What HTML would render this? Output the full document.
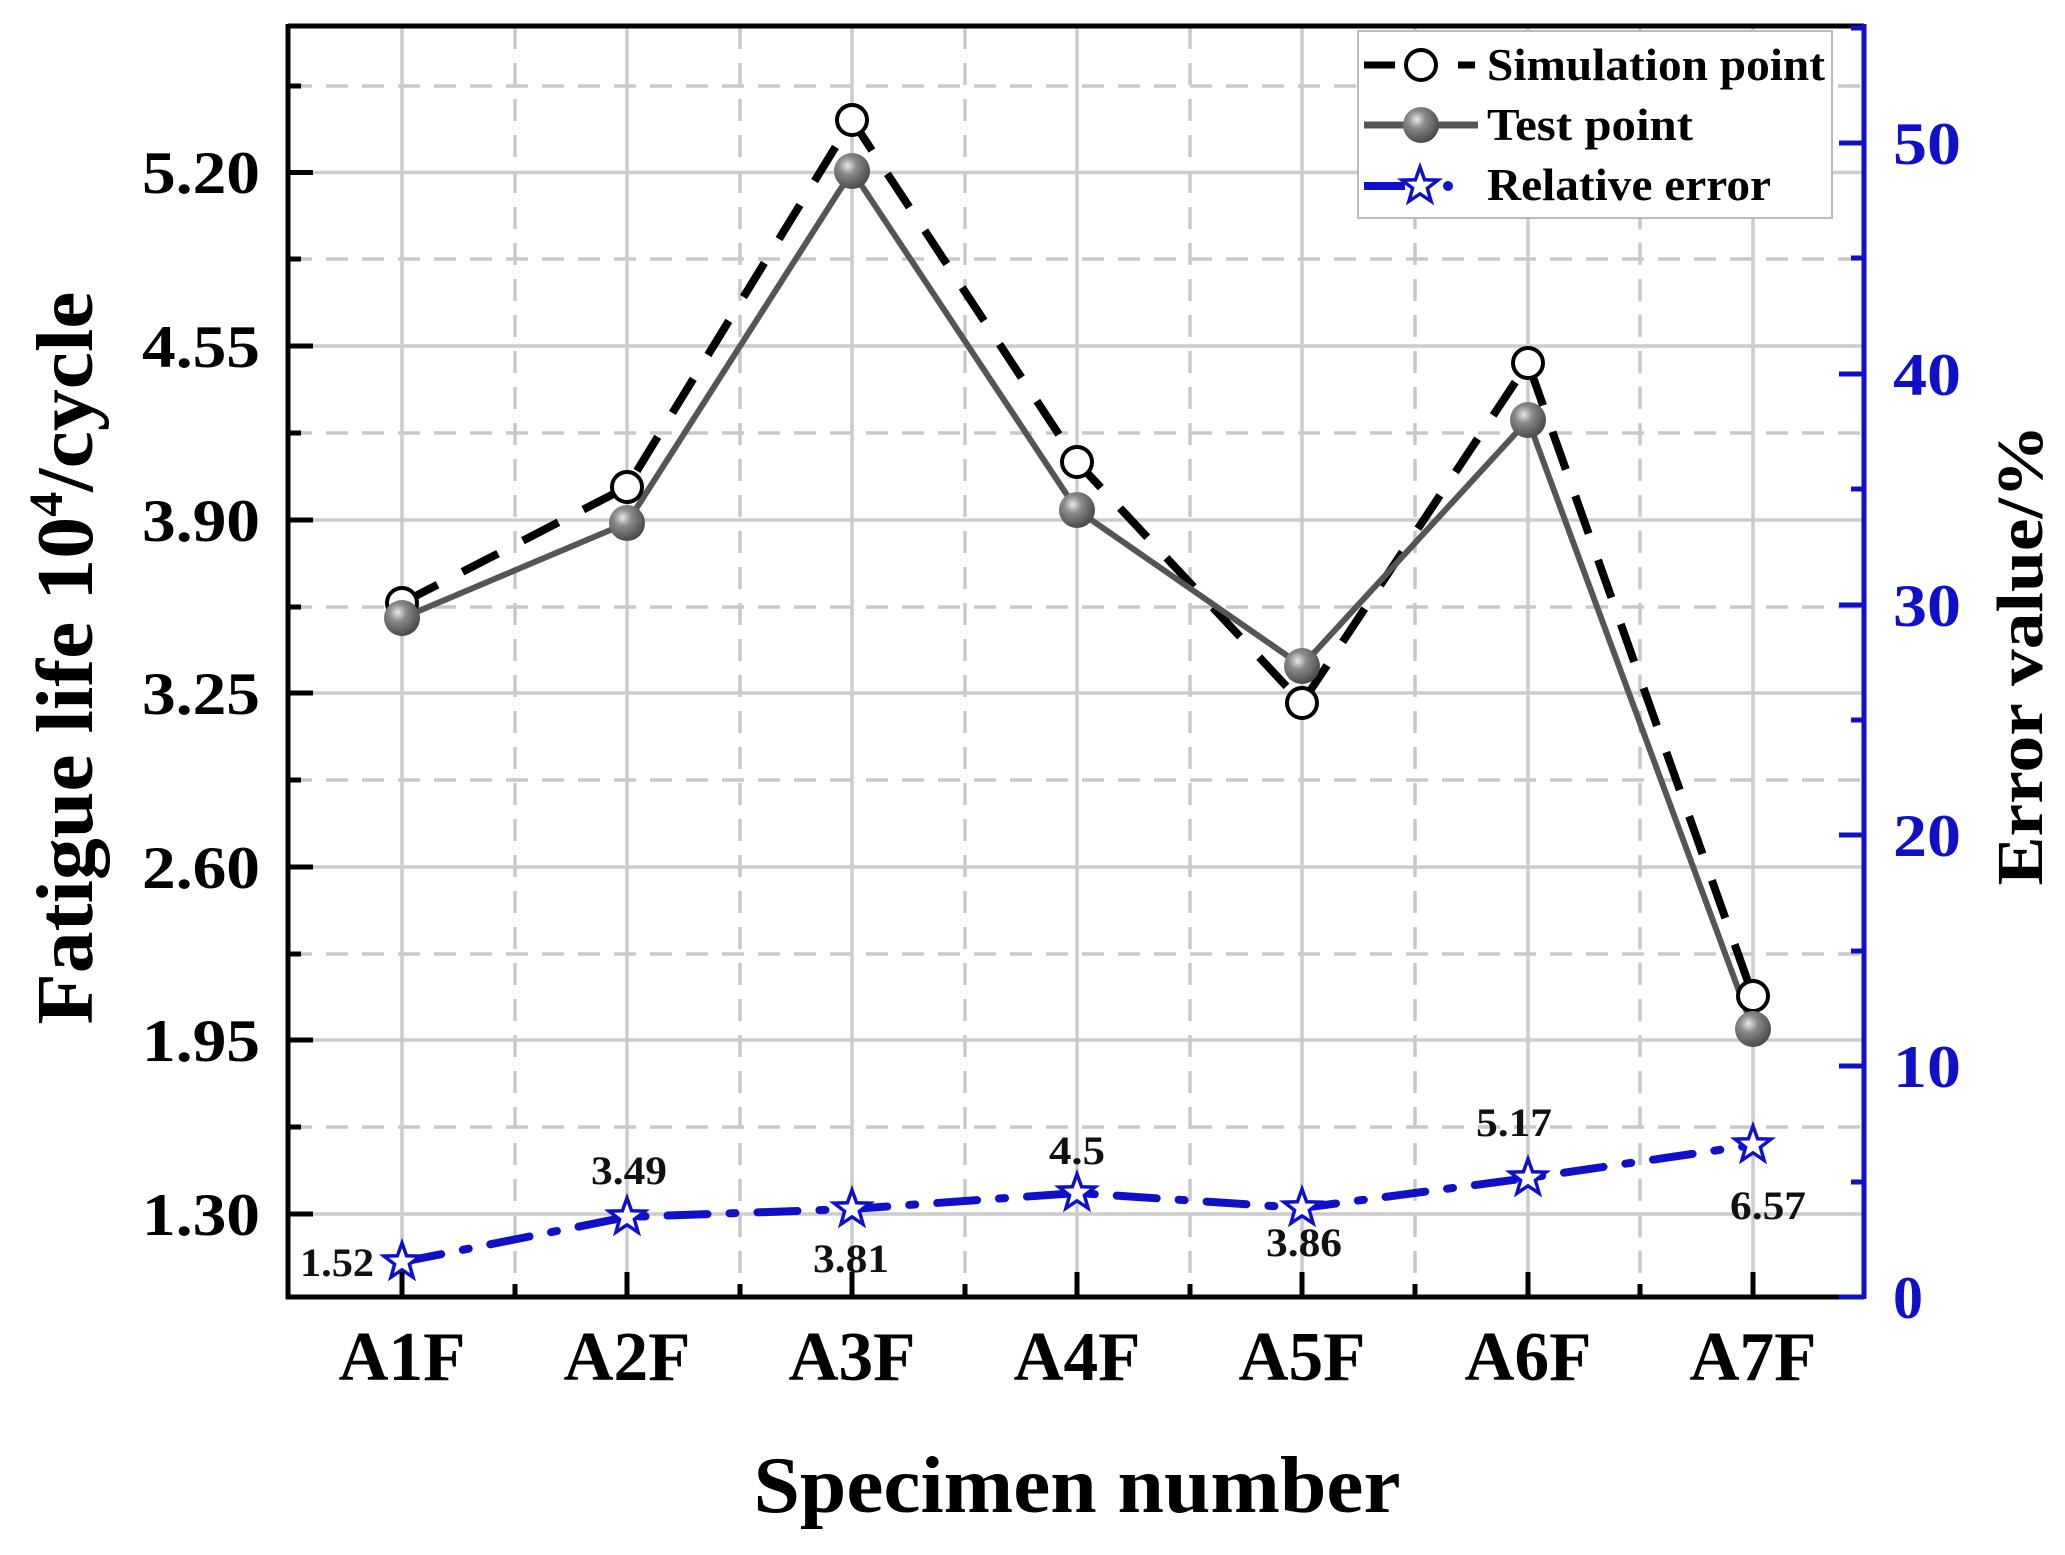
<!DOCTYPE html>
<html><head><meta charset="utf-8"><style>html,body{margin:0;padding:0;background:#fff}svg{display:block}svg text{font-family:"Liberation Serif","Times New Roman",serif;font-weight:bold}</style></head>
<body>
<svg width="2065" height="1555" viewBox="0 0 2065 1555" xmlns="http://www.w3.org/2000/svg">
<defs>
<radialGradient id="g" cx="0.38" cy="0.35" r="0.7">
<stop offset="0" stop-color="#e8e8e8"/><stop offset="0.35" stop-color="#8a8a8a"/><stop offset="1" stop-color="#444"/>
</radialGradient>
<polygon id="star" points="0,-19 4.6,-6.2 18,-5.9 7.4,2.3 11.1,15.3 0,7.8 -11.1,15.3 -7.4,2.3 -18,-5.9 -4.6,-6.2" fill="#fff" stroke="#1010c8" stroke-width="3.5"/>
</defs>
<g stroke="#c8c8c8" stroke-width="3.5" stroke-dasharray="22,14" fill="none">
<line x1="515" y1="27" x2="515" y2="1296"/><line x1="740" y1="27" x2="740" y2="1296"/><line x1="965" y1="27" x2="965" y2="1296"/>
<line x1="1190" y1="27" x2="1190" y2="1296"/><line x1="1415" y1="27" x2="1415" y2="1296"/><line x1="1640" y1="27" x2="1640" y2="1296"/>
<line x1="290" y1="1127" x2="1862" y2="1127"/><line x1="290" y1="954" x2="1862" y2="954"/><line x1="290" y1="780" x2="1862" y2="780"/>
<line x1="290" y1="607" x2="1862" y2="607"/><line x1="290" y1="433" x2="1862" y2="433"/><line x1="290" y1="259" x2="1862" y2="259"/>
<line x1="290" y1="86" x2="1862" y2="86"/>
</g>
<g stroke="#cccccc" stroke-width="3.5" fill="none">
<line x1="402" y1="27" x2="402" y2="1296"/><line x1="627" y1="27" x2="627" y2="1296"/><line x1="852" y1="27" x2="852" y2="1296"/>
<line x1="1077" y1="27" x2="1077" y2="1296"/><line x1="1302" y1="27" x2="1302" y2="1296"/><line x1="1528" y1="27" x2="1528" y2="1296"/>
<line x1="1753" y1="27" x2="1753" y2="1296"/>
<line x1="290" y1="1214" x2="1862" y2="1214"/><line x1="290" y1="1040" x2="1862" y2="1040"/><line x1="290" y1="867" x2="1862" y2="867"/>
<line x1="290" y1="693" x2="1862" y2="693"/><line x1="290" y1="520" x2="1862" y2="520"/><line x1="290" y1="346" x2="1862" y2="346"/>
<line x1="290" y1="172.5" x2="1862" y2="172.5"/>
</g>
<polyline points="402,603 627,487 852,120 1077,462 1302,703 1528,363 1753,996" fill="none" stroke="#000" stroke-width="8" stroke-dasharray="40,28"/>
<polyline points="402,618 627,523 852,171 1077,510 1302,666 1528,420 1753,1029" fill="none" stroke="#555" stroke-width="6"/>
<g fill="#fff" stroke="#000" stroke-width="4">
<circle cx="402" cy="603" r="15"/><circle cx="627" cy="487" r="15"/><circle cx="852" cy="120" r="15"/><circle cx="1077" cy="462" r="15"/>
<circle cx="1302" cy="703" r="15"/><circle cx="1528" cy="363" r="15"/><circle cx="1753" cy="996" r="15"/>
</g>
<g fill="url(#g)">
<circle cx="402" cy="618" r="18"/><circle cx="627" cy="523" r="18"/><circle cx="852" cy="171" r="18"/><circle cx="1077" cy="510" r="18"/>
<circle cx="1302" cy="666" r="18"/><circle cx="1528" cy="420" r="18"/><circle cx="1753" cy="1029" r="18"/>
</g>
<polyline points="402,1262 627,1217 852,1209 1077,1193 1302,1208 1528,1178 1753,1145" fill="none" stroke="#1010c8" stroke-width="8" stroke-dasharray="40,22,6,22" stroke-linecap="round"/>
<use href="#star" x="402" y="1262"/><use href="#star" x="627" y="1217"/><use href="#star" x="852" y="1209"/><use href="#star" x="1077" y="1193"/>
<use href="#star" x="1302" y="1208"/><use href="#star" x="1528" y="1178"/><use href="#star" x="1753" y="1145"/>
<g font-size="40" fill="#111" text-anchor="middle">
<text x="337" y="1276" textLength="74" lengthAdjust="spacingAndGlyphs">1.52</text>
<text x="629" y="1184" textLength="76" lengthAdjust="spacingAndGlyphs">3.49</text>
<text x="851" y="1272" textLength="76" lengthAdjust="spacingAndGlyphs">3.81</text>
<text x="1077" y="1164" textLength="56" lengthAdjust="spacingAndGlyphs">4.5</text>
<text x="1304" y="1256" textLength="76" lengthAdjust="spacingAndGlyphs">3.86</text>
<text x="1514" y="1136" textLength="76" lengthAdjust="spacingAndGlyphs">5.17</text>
<text x="1768" y="1219" textLength="76" lengthAdjust="spacingAndGlyphs">6.57</text>
</g>
<g stroke="#000" stroke-width="5" fill="none">
<line x1="288" y1="26" x2="1864" y2="26"/>
<line x1="288" y1="24" x2="288" y2="1299"/>
<line x1="286" y1="1297" x2="1864" y2="1297"/>
</g>
<line x1="1864" y1="24" x2="1864" y2="1299" stroke="#1010c8" stroke-width="5"/>
<g stroke="#000" stroke-width="5">
<line x1="288" y1="1214" x2="313" y2="1214"/><line x1="288" y1="1040" x2="313" y2="1040"/><line x1="288" y1="867" x2="313" y2="867"/>
<line x1="288" y1="693" x2="313" y2="693"/><line x1="288" y1="520" x2="313" y2="520"/><line x1="288" y1="346" x2="313" y2="346"/>
<line x1="288" y1="172.5" x2="313" y2="172.5"/>
<line x1="288" y1="1127" x2="301" y2="1127"/><line x1="288" y1="954" x2="301" y2="954"/><line x1="288" y1="780" x2="301" y2="780"/>
<line x1="288" y1="607" x2="301" y2="607"/><line x1="288" y1="433" x2="301" y2="433"/><line x1="288" y1="259" x2="301" y2="259"/>
<line x1="288" y1="86" x2="301" y2="86"/>
<line x1="402" y1="1297" x2="402" y2="1272"/><line x1="627" y1="1297" x2="627" y2="1272"/><line x1="852" y1="1297" x2="852" y2="1272"/>
<line x1="1077" y1="1297" x2="1077" y2="1272"/><line x1="1302" y1="1297" x2="1302" y2="1272"/><line x1="1528" y1="1297" x2="1528" y2="1272"/>
<line x1="1753" y1="1297" x2="1753" y2="1272"/>
<line x1="515" y1="1297" x2="515" y2="1284"/><line x1="740" y1="1297" x2="740" y2="1284"/><line x1="965" y1="1297" x2="965" y2="1284"/>
<line x1="1190" y1="1297" x2="1190" y2="1284"/><line x1="1415" y1="1297" x2="1415" y2="1284"/><line x1="1640" y1="1297" x2="1640" y2="1284"/>
</g>
<g stroke="#1010c8" stroke-width="5">
<line x1="1864" y1="1297" x2="1839" y2="1297"/><line x1="1864" y1="1066" x2="1839" y2="1066"/><line x1="1864" y1="835" x2="1839" y2="835"/>
<line x1="1864" y1="605" x2="1839" y2="605"/><line x1="1864" y1="374" x2="1839" y2="374"/><line x1="1864" y1="143" x2="1839" y2="143"/>
<line x1="1864" y1="1182" x2="1851" y2="1182"/><line x1="1864" y1="951" x2="1851" y2="951"/><line x1="1864" y1="720" x2="1851" y2="720"/>
<line x1="1864" y1="489" x2="1851" y2="489"/><line x1="1864" y1="258" x2="1851" y2="258"/><line x1="1864" y1="28" x2="1851" y2="28"/>
</g>
<g font-size="60" fill="#000" text-anchor="end">
<text x="260" y="1235" textLength="118" lengthAdjust="spacingAndGlyphs">1.30</text>
<text x="260" y="1061" textLength="118" lengthAdjust="spacingAndGlyphs">1.95</text>
<text x="260" y="888" textLength="118" lengthAdjust="spacingAndGlyphs">2.60</text>
<text x="260" y="714" textLength="118" lengthAdjust="spacingAndGlyphs">3.25</text>
<text x="260" y="541" textLength="118" lengthAdjust="spacingAndGlyphs">3.90</text>
<text x="260" y="367" textLength="118" lengthAdjust="spacingAndGlyphs">4.55</text>
<text x="260" y="193" textLength="118" lengthAdjust="spacingAndGlyphs">5.20</text>
</g>
<g font-size="60" fill="#1010c8">
<text x="1893" y="1318">0</text>
<text x="1893" y="1087" textLength="68" lengthAdjust="spacingAndGlyphs">10</text>
<text x="1893" y="856" textLength="68" lengthAdjust="spacingAndGlyphs">20</text>
<text x="1893" y="626" textLength="68" lengthAdjust="spacingAndGlyphs">30</text>
<text x="1893" y="395" textLength="68" lengthAdjust="spacingAndGlyphs">40</text>
<text x="1893" y="164" textLength="68" lengthAdjust="spacingAndGlyphs">50</text>
</g>
<g font-size="70" fill="#000" text-anchor="middle">
<text x="402" y="1380" textLength="127" lengthAdjust="spacingAndGlyphs">A1F</text>
<text x="627" y="1380" textLength="127" lengthAdjust="spacingAndGlyphs">A2F</text>
<text x="852" y="1380" textLength="127" lengthAdjust="spacingAndGlyphs">A3F</text>
<text x="1077" y="1380" textLength="127" lengthAdjust="spacingAndGlyphs">A4F</text>
<text x="1302" y="1380" textLength="127" lengthAdjust="spacingAndGlyphs">A5F</text>
<text x="1528" y="1380" textLength="127" lengthAdjust="spacingAndGlyphs">A6F</text>
<text x="1753" y="1380" textLength="127" lengthAdjust="spacingAndGlyphs">A7F</text>
</g>
<text x="1077" y="1512" font-size="80" text-anchor="middle" textLength="647" lengthAdjust="spacingAndGlyphs">Specimen number</text>
<text transform="translate(92,658) rotate(-90)" font-size="80" text-anchor="middle" textLength="733" lengthAdjust="spacingAndGlyphs">Fatigue life 10<tspan font-size="48" dy="-30">4</tspan><tspan dy="30">/cycle</tspan></text>
<text transform="translate(2042,655) rotate(-90)" font-size="66" text-anchor="middle" textLength="461" lengthAdjust="spacingAndGlyphs">Error value/%</text>
<rect x="1358" y="31" width="474" height="187" fill="#fff" stroke="#bbb" stroke-width="2"/>
<line x1="1364" y1="65" x2="1395" y2="65" stroke="#000" stroke-width="7"/>
<line x1="1458" y1="65" x2="1475" y2="65" stroke="#000" stroke-width="7"/>
<circle cx="1421" cy="65" r="15" fill="#fff" stroke="#000" stroke-width="4"/>
<line x1="1364" y1="125" x2="1478" y2="125" stroke="#555" stroke-width="7"/>
<circle cx="1421" cy="125" r="18" fill="url(#g)"/>
<line x1="1364" y1="186" x2="1405" y2="186" stroke="#1010c8" stroke-width="8"/>
<circle cx="1448" cy="186" r="5" fill="#1010c8"/>
<use href="#star" x="1420" y="186"/>
<g font-size="46" fill="#000">
<text x="1487" y="80" textLength="338" lengthAdjust="spacingAndGlyphs">Simulation point</text>
<text x="1487" y="140" textLength="206" lengthAdjust="spacingAndGlyphs">Test point</text>
<text x="1487" y="200" textLength="284" lengthAdjust="spacingAndGlyphs">Relative error</text>
</g>
</svg>
</body></html>
